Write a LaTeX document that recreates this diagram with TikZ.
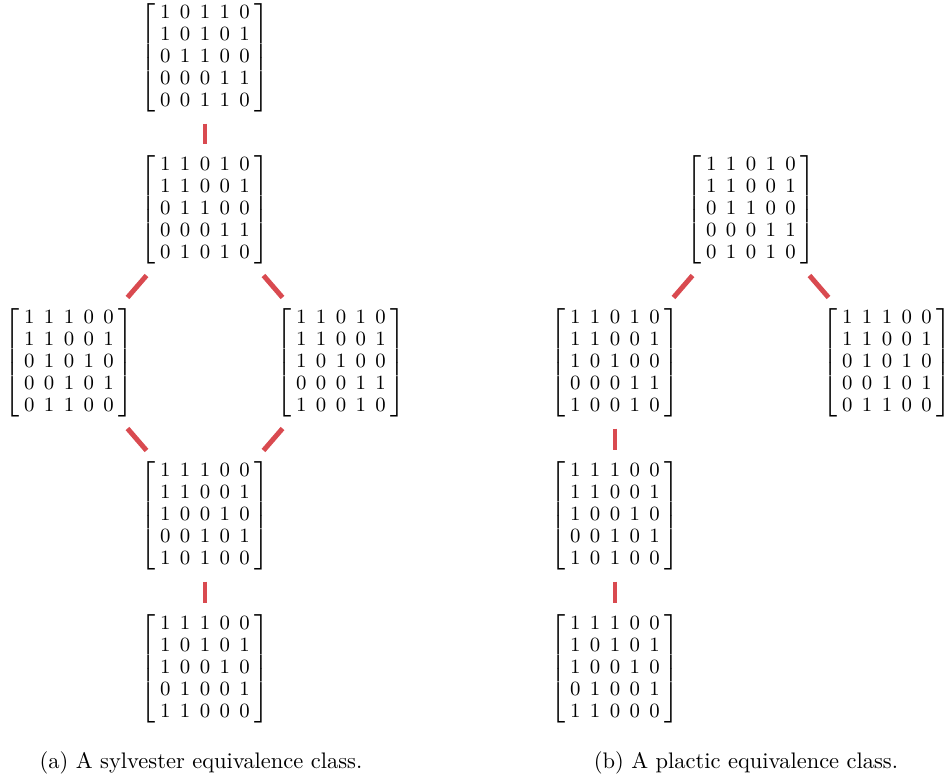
\documentclass[tikz,border=0pt]{standalone}
\definecolor{linkred}{RGB}{217,74,80}
\setlength\arraycolsep{2.1pt}
\newcommand{\binmat}[1]{$\left[\begin{array}{ccccc}#1\end{array}\right]$}
\begin{document}
\begin{tikzpicture}[x=0.445pt,y=-0.445pt,
    mat/.style={inner xsep=-2.9pt,inner ysep=0pt,font=\fontsize{9}{9.8}\selectfont},
    link/.style={linkred,line width=2.2pt}]
    \useasboundingbox (0,0) rectangle (947,778);
    % sylvester class
    \node[mat] (s1) at (205,58) {\binmat{1&0&1&1&0\\1&0&1&0&1\\0&1&1&0&0\\0&0&0&1&1\\0&0&1&1&0}};
    \node[mat] (s2) at (205,210) {\binmat{1&1&0&1&0\\1&1&0&0&1\\0&1&1&0&0\\0&0&0&1&1\\0&1&0&1&0}};
    \node[mat] (s3) at (69,363) {\binmat{1&1&1&0&0\\1&1&0&0&1\\0&1&0&1&0\\0&0&1&0&1\\0&1&1&0&0}};
    \node[mat] (s4) at (341,363) {\binmat{1&1&0&1&0\\1&1&0&0&1\\1&0&1&0&0\\0&0&0&1&1\\1&0&0&1&0}};
    \node[mat] (s5) at (205,516) {\binmat{1&1&1&0&0\\1&1&0&0&1\\1&0&0&1&0\\0&0&1&0&1\\1&0&1&0&0}};
    \node[mat] (s6) at (205,669) {\binmat{1&1&1&0&0\\1&0&1&0&1\\1&0&0&1&0\\0&1&0&0&1\\1&1&0&0&0}};
    % plactic class
    \node[mat] (p1) at (751,210) {\binmat{1&1&0&1&0\\1&1&0&0&1\\0&1&1&0&0\\0&0&0&1&1\\0&1&0&1&0}};
    \node[mat] (p2) at (615,363) {\binmat{1&1&0&1&0\\1&1&0&0&1\\1&0&1&0&0\\0&0&0&1&1\\1&0&0&1&0}};
    \node[mat] (p3) at (887,363) {\binmat{1&1&1&0&0\\1&1&0&0&1\\0&1&0&1&0\\0&0&1&0&1\\0&1&1&0&0}};
    \node[mat] (p4) at (615,516) {\binmat{1&1&1&0&0\\1&1&0&0&1\\1&0&0&1&0\\0&0&1&0&1\\1&0&1&0&0}};
    \node[mat] (p5) at (615,669) {\binmat{1&1&1&0&0\\1&0&1&0&1\\1&0&0&1&0\\0&1&0&0&1\\1&1&0&0&0}};
    \foreach \a/\b in {
      s1.south/s2.north,
      s2.south west/s3.north east,
      s2.south east/s4.north west,
      s3.south east/s5.north west,
      s4.south west/s5.north east,
      s5.south/s6.north,
      p1.south west/p2.north east,
      p1.south east/p3.north west,
      p2.south/p4.north,
      p4.south/p5.north}{
      \draw[link] ([yshift=-4.45pt]\a) -- ([yshift=4.45pt]\b);
    }
    \node (capa) at (201,763) {(a) A sylvester equivalence class.};
    \node (capb) at (746,763) {(b) A plactic equivalence class.};
  \end{tikzpicture}
\end{document}
